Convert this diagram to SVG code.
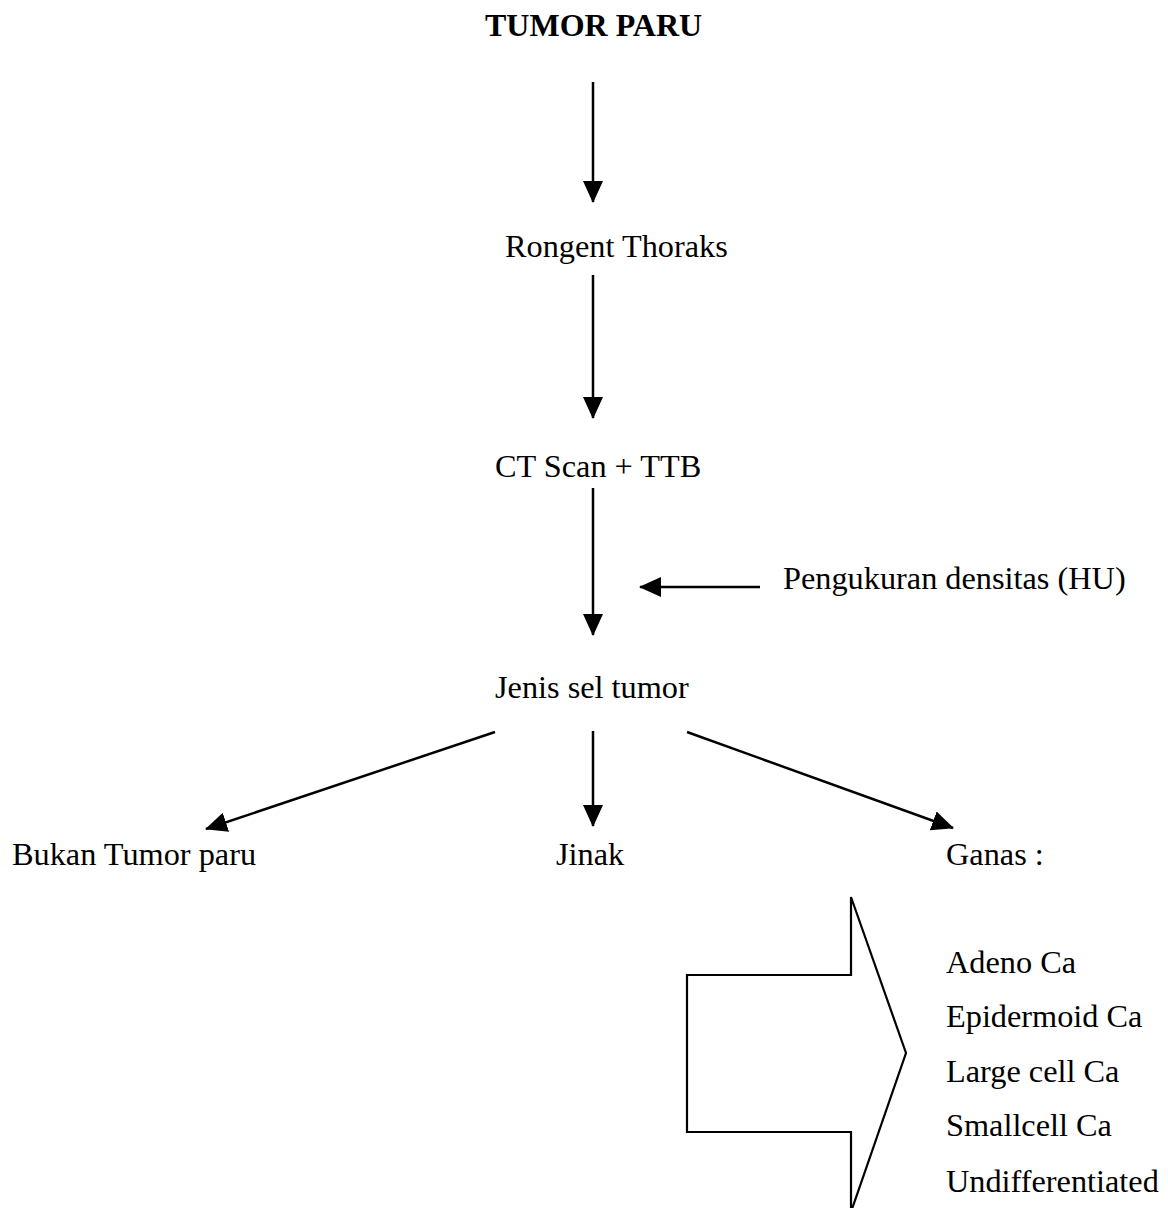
<svg xmlns="http://www.w3.org/2000/svg" width="1168" height="1208" viewBox="0 0 1168 1208">
<defs>
<style>
text { font-family: "Liberation Serif", "Times New Roman", serif; font-size: 32.3px; fill: #000; }
.b { font-weight: bold; font-size: 32px; }
.c { stroke: #000; stroke-width: 2.5; fill: none; }
</style>
<marker id="ah" viewBox="0 0 22 20" refX="21" refY="10" markerWidth="22" markerHeight="20" markerUnits="userSpaceOnUse" orient="auto">
<path d="M0,0 L22,10 L0,20 Z" fill="#000"/>
</marker>
</defs>
<rect width="1168" height="1208" fill="#fff"/>
<g id="connectors">
<line class="c" x1="593" y1="82" x2="593" y2="202" marker-end="url(#ah)"/>
<line class="c" x1="593" y1="275" x2="593" y2="418" marker-end="url(#ah)"/>
<line class="c" x1="593" y1="488" x2="593" y2="635" marker-end="url(#ah)"/>
<line class="c" x1="760" y1="587" x2="640" y2="587" marker-end="url(#ah)"/>
<line class="c" x1="495" y1="732" x2="206" y2="829" marker-end="url(#ah)"/>
<line class="c" x1="593" y1="731" x2="593" y2="826" marker-end="url(#ah)"/>
<line class="c" x1="687" y1="732" x2="953" y2="828" marker-end="url(#ah)"/>
</g>
<g id="big-arrow">
<path d="M851,897 L906,1053 L851,1212 L851,1132 L687,1132 L687,975 L851,975 Z" fill="#fff" stroke="#000" stroke-width="2.2"/>
</g>
<g id="n-tumor-paru"><text class="b" x="485" y="36">TUMOR PARU</text></g>
<g id="n-rongent"><text x="505" y="257">Rongent Thoraks</text></g>
<g id="n-ctscan"><text x="495" y="477">CT Scan + TTB</text></g>
<g id="n-pengukuran"><text x="783" y="589">Pengukuran densitas (HU)</text></g>
<g id="n-jenis"><text x="495" y="698">Jenis sel tumor</text></g>
<g id="n-bukan"><text x="12" y="865">Bukan Tumor paru</text></g>
<g id="n-jinak"><text x="556" y="865">Jinak</text></g>
<g id="n-ganas"><text x="946" y="865">Ganas :</text></g>
<g id="n-list">
<text x="946" y="973">Adeno Ca</text>
<text x="946" y="1027">Epidermoid Ca</text>
<text x="946" y="1082">Large cell Ca</text>
<text x="946" y="1136">Smallcell Ca</text>
<text x="946" y="1192">Undifferentiated</text>
</g>
</svg>
